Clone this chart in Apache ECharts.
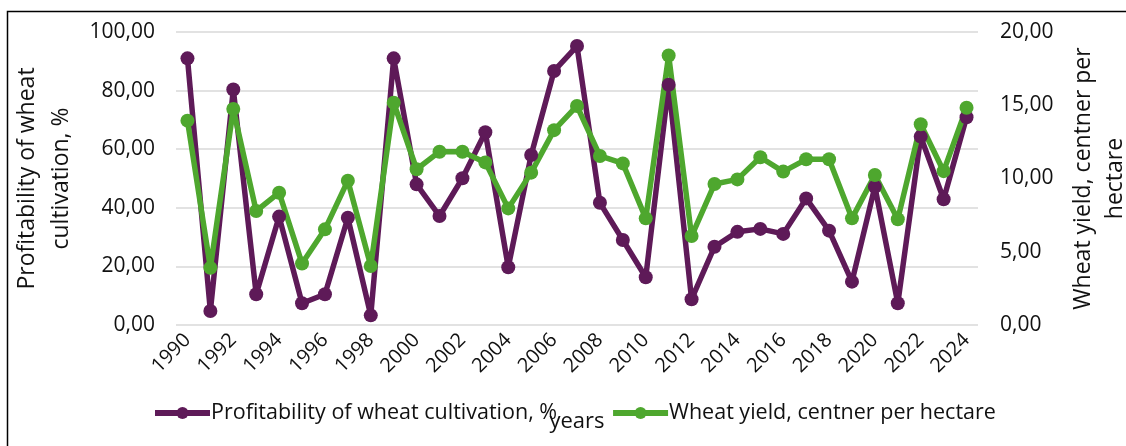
<!DOCTYPE html>
<html>
<head>
<meta charset="utf-8">
<script src="https://cdn.jsdelivr.net/npm/echarts@6/dist/echarts.min.js"></script>
<style>
  html, body { margin: 0; padding: 0; background: #fff; }
  #chart { width: 1126px; height: 446px; }
</style>
</head>
<body>
<div id="chart"></div>
<script>
// data
var years = ['1990', '1991', '1992', '1993', '1994', '1995', '1996', '1997', '1998', '1999',
  '2000', '2001', '2002', '2003', '2004', '2005', '2006', '2007', '2008', '2009',
  '2010', '2011', '2012', '2013', '2014', '2015', '2016', '2017', '2018', '2019',
  '2020', '2021', '2022', '2023', '2024']
var profitability = [91.0, 4.8, 80.4, 10.5, 37.0, 7.4, 10.5, 36.6, 3.3, 91.0,
  48.0, 37.2, 50.1, 65.8, 19.7, 58.0, 86.7, 95.2, 41.7, 29.0,
  16.3, 82.0, 8.8, 26.7, 31.8, 32.8, 31.1, 43.2, 32.2, 14.8,
  47.2, 7.4, 64.3, 42.9, 70.9]
var yieldPerHa = [13.95, 3.9, 14.74, 7.78, 9.03, 4.2, 6.53, 9.85, 4.03, 15.17,
  10.63, 11.83, 11.83, 11.1, 7.96, 10.4, 13.3, 14.95, 11.54, 11.03,
  7.28, 18.4, 6.07, 9.62, 9.94, 11.45, 10.47, 11.31, 11.31, 7.28,
  10.24, 7.22, 13.7, 10.5, 14.83]

var font = 'Open Sans'
var textColor = '#111'
var purple = '#5e1a58'
var green = '#4ea72e'

function fmt (v) {
  return v.toFixed(2).replace('.', ',')
}

var myChart = echarts.init(document.getElementById('chart'))
myChart.setOption({
  animation: false,
  textStyle: { fontFamily: font, color: textColor },
  grid: { left: 176, right: 148, top: 32, bottom: 121, outerBoundsMode: 'none' },
  graphic: [
    {
      type: 'rect',
      shape: { x: 7.5, y: 11.5, width: 1140, height: 460 },
      style: { fill: 'none', stroke: '#000', lineWidth: 1.5 },
      silent: true
    }
  ],
  legend: {
    left: 152,
    top: 402,
    padding: 0,
    itemWidth: 55,
    itemHeight: 15,
    itemGap: 53,
    lineStyle: { width: 6 },
    textStyle: { fontFamily: font, fontSize: 21.5, color: textColor, padding: [0, 0, 0, -4] },
    data: ['Profitability of wheat cultivation, %', 'Wheat yield, centner per hectare']
  },
  xAxis: {
    type: 'category',
    data: years,
    name: 'years',
    nameLocation: 'middle',
    nameGap: 86,
    nameTextStyle: { fontFamily: font, fontSize: 22, color: textColor },
    axisLine: { show: false },
    axisTick: { show: false },
    axisLabel: {
      interval: 1,
      rotate: 45,
      margin: 12,
      fontFamily: font,
      fontSize: 20,
      color: textColor
    }
  },
  yAxis: [
    {
      type: 'value',
      min: 0,
      max: 100,
      interval: 20,
      name: 'Profitability of wheat\ncultivation, %',
      nameLocation: 'middle',
      nameRotate: 90,
      nameGap: 87,
      nameTextStyle: { fontFamily: font, fontSize: 23, color: textColor, lineHeight: 34 },
      axisLine: { show: false },
      axisTick: { show: false },
      axisLabel: { formatter: fmt, fontFamily: font, fontSize: 21, color: textColor, margin: 21 },
      splitLine: { lineStyle: { color: '#d9d9d9', width: 1.5 } }
    },
    {
      type: 'value',
      min: 0,
      max: 20,
      interval: 5,
      name: 'Wheat yield, centner per\nhectare',
      nameLocation: 'middle',
      nameRotate: 90,
      nameGap: 89,
      nameTextStyle: { fontFamily: font, fontSize: 23, color: textColor, lineHeight: 32 },
      axisLine: { show: false },
      axisTick: { show: false },
      axisLabel: { formatter: fmt, fontFamily: font, fontSize: 21, color: textColor, margin: 22 },
      splitLine: { show: false }
    }
  ],
  series: [
    {
      name: 'Profitability of wheat cultivation, %',
      type: 'line',
      yAxisIndex: 0,
      symbol: 'circle',
      symbolSize: 14,
      color: purple,
      lineStyle: { width: 5.5, color: purple },
      itemStyle: { color: purple },
      data: profitability
    },
    {
      name: 'Wheat yield, centner per hectare',
      type: 'line',
      yAxisIndex: 1,
      symbol: 'circle',
      symbolSize: 14,
      color: green,
      lineStyle: { width: 5.5, color: green },
      itemStyle: { color: green },
      data: yieldPerHa
    }
  ]
})
</script>
</body>
</html>
